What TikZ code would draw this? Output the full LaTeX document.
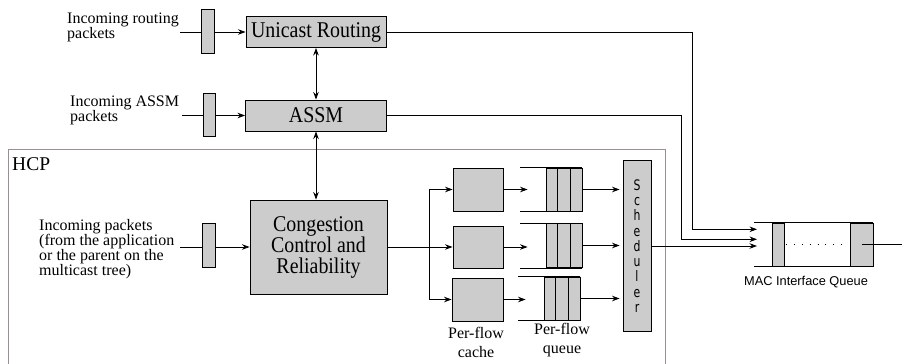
\documentclass[tikz,border=0pt]{standalone}
\usepackage{fontspec}
\setmainfont{Liberation Serif}
\setsansfont{Liberation Sans}
\newfontfamily\bigserif{Liberation Serif}[FakeStretch=0.885]
\newfontfamily\schedfont{DejaVu Sans}[FakeStretch=0.75]
\usetikzlibrary{arrows.meta,calc}
\definecolor{boxgray}{HTML}{CCCCCC}
\definecolor{hcpcol}{HTML}{9E8F8F}
\begin{document}
\begin{tikzpicture}[x=1pt,y=-1pt,
  gbox/.style={draw=black, fill=boxgray, line width=0.9pt, inner sep=0pt},
  ln/.style={line width=0.8pt},
  arr/.style={line width=0.8pt, -{Stealth[length=7.5pt,width=5.5pt]}},
  darr/.style={line width=0.8pt, {Stealth[length=7.5pt,width=5.5pt]}-{Stealth[length=7.5pt,width=5.5pt]}},
  lbl/.style={font=\fontsize{16}{15}\selectfont, align=left, inner sep=0pt},
  big/.style={font=\bigserif\fontsize{22.5}{22}\selectfont}
]
\useasboundingbox (0,0) rectangle (902,364);
% HCP frame
\draw[hcpcol, line width=0.9pt] (8,364) -- (8,149.5) -- (665.5,149.5) -- (665.5,364);
\node[font=\fontsize{19.5}{22}\selectfont, anchor=west, inner sep=0pt] (hcp) at (12,164) {HCP};

% main boxes
\node[gbox, big, minimum width=140pt, minimum height=31pt] (uni) at (316,32) {Unicast Routing};
\node[gbox, big, minimum width=141pt, minimum height=31pt] (assm) at (316,115.5) {ASSM};
\node[gbox, align=center, font=\bigserif\fontsize{22.5}{21}\selectfont, minimum width=137pt, minimum height=94pt] (ccr) at (318.5,247) {Congestion\\Control and\\Reliability};

% input buffers
\node[gbox, minimum width=13pt, minimum height=44pt] (ubuf) at (207.5,31) {};
\node[gbox, minimum width=12pt, minimum height=43pt] (abuf) at (209,114.5) {};
\node[gbox, minimum width=13pt, minimum height=44pt] (pbuf) at (208.5,245.5) {};
\coordinate (uin) at (180,32);
\coordinate (ain) at (182,115.5);
\coordinate (pin) at (180,247);
\draw[ln] (uin) -- (uin -| ubuf.west);
\draw[arr] (uin -| ubuf.east) -- (uni.west);
\draw[ln] (ain) -- (ain -| abuf.west);
\draw[arr] (ain -| abuf.east) -- (assm.west);
\draw[ln] (pin) -- (pin -| pbuf.west);
\draw[arr] (pin -| pbuf.east) -- (ccr.west);

% labels
\node[lbl, anchor=west] (rtxt) at (67,27.5) {Incoming routing\\packets};
\node[lbl, anchor=west] (atxt) at (70,110.5) {Incoming ASSM\\packets};
\node[lbl, anchor=west] (ptxt) at (39,249.5) {Incoming packets\\(from the application\\or the parent on the\\multicast tree)};

% vertical links
\draw[darr] (uni.south) -- (assm.north);
\draw[darr] (assm.south) -- (assm.south |- ccr.north);

% caches
\node[gbox, minimum width=50pt, minimum height=43pt] (c1) at (478,189.5) {};
\node[gbox, minimum width=50pt, minimum height=42pt] (c2) at (478,247) {};
\node[gbox, minimum width=51pt, minimum height=43pt] (c3) at (477.5,299.5) {};
\coordinate (br) at (429,247);
\draw[ln] (ccr.east) -- (br);
\draw[arr] (br) |- (c1.west);
\draw[arr] (br) -- (c2.west);
\draw[arr] (br) |- (c3.west);

% queues
\node[gbox, minimum width=36pt, minimum height=43pt] (q1) at (564,189.5) {};
\node[gbox, minimum width=36pt, minimum height=44pt] (q2) at (564,245.5) {};
\node[gbox, minimum width=36pt, minimum height=43pt] (q3) at (562,298.5) {};
\foreach \q in {q1,q2,q3}{
  \draw[ln] (\q.north east) -- ++(-62,0);
  \draw[ln] (\q.south east) -- ++(-62,0);
  \draw[ln] ($(\q.north west)!1/3!(\q.north east)$) -- ($(\q.south west)!1/3!(\q.south east)$);
  \draw[ln] ($(\q.north west)!2/3!(\q.north east)$) -- ($(\q.south west)!2/3!(\q.south east)$);
}
\coordinate (q1in) at ([xshift=-18pt]q1.west);
\coordinate (q2in) at ([xshift=-18pt]q2.west);
\coordinate (q3in) at ([xshift=-18pt]q3.west);
\draw[arr] (c1.east) -- (c1.east -| q1in);
\draw[arr] (c2.east) -- (c2.east -| q2in);
\draw[arr] (c3.east) -- (c3.east -| q3in);

% scheduler
\node[gbox, align=center, font=\schedfont\fontsize{14.5}{15.25}\selectfont, minimum width=28pt, minimum height=171pt] (sched) at (637,246) {S\\c\\h\\e\\d\\u\\l\\e\\r};
\draw[arr, shorten >=3pt] (q1.east) -- (q1.east -| sched.west);
\draw[arr, shorten >=3pt] (q2.east) -- (q2.east -| sched.west);
\draw[arr, shorten >=3pt] (q3.east) -- (q3.east -| sched.west);

% labels under
\node[align=center, inner sep=0pt, font=\fontsize{16}{19}\selectfont] (ctxt) at (476,342) {Per-flow\\cache};
\node[align=center, inner sep=0pt, font=\fontsize{16}{19}\selectfont] (qtxt) at (562,340) {Per-flow\\queue};

% MAC queue
\node[gbox, minimum width=12pt, minimum height=43pt] (macA) at (778,244.5) {};
\node[gbox, minimum width=23pt, minimum height=43pt] (macB) at (861.5,244.5) {};
\coordinate (mL) at (754,244.5);
\coordinate (mout) at (902,244.5);
\draw[ln] (macB.north east) -- (macB.north east -| mL);
\draw[ln] (macB.south east) -- (macB.south east -| mL);
\draw[line width=0.8pt, dash pattern=on 0.8pt off 7pt, shorten <=2pt, shorten >=2pt] (macA.east) -- (macB.west);
\draw[ln] (macB.center) -- (mout);
\node[inner sep=0pt, font=\sffamily\fontsize{12.8}{14}\selectfont] (mtxt) at (806,282.5) {MAC Interface Queue};

\coordinate (m1) at (757,229.3);
\coordinate (m2) at (757,239.3);
\coordinate (m3) at (757,246);
\draw[arr] (uni.east) -| ([xshift=-65pt]m1) -- (m1);
\draw[arr] (assm.east) -| ([xshift=-76pt]m2) -- (m2);
\draw[arr] (sched.east) -- (m3);
\end{tikzpicture}
\end{document}
